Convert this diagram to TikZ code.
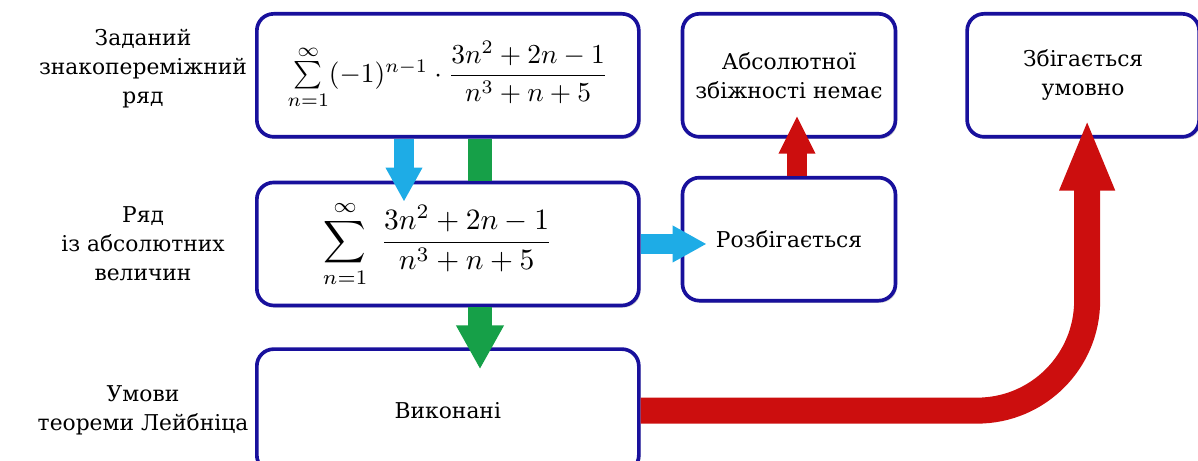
\documentclass[tikz,border=0pt]{standalone}
\usepackage{fontspec}
\setmainfont{DejaVu Serif}
\usetikzlibrary{arrows.meta,positioning,shadows}

\definecolor{frame}{RGB}{24,16,156}
\definecolor{skyarr}{RGB}{30,172,230}
\definecolor{grnarr}{RGB}{22,160,72}
\definecolor{redarr}{RGB}{204,14,14}
\newcommand\boxfont{\fontsize{15.5}{20.5}\selectfont}
\newcommand\bigmath[2]{\scalebox{#1}{\fontsize{10}{12}\selectfont$#2$}}

\begin{document}
\begin{tikzpicture}[
  node distance=1.05cm and 1cm,
  box/.style={draw=frame, line width=2.6pt, rounded corners=12pt, fill=white,
              drop shadow={opacity=0.35, shadow xshift=1.2pt, shadow yshift=-1.5pt},
              align=center, minimum height=3.075cm, font=\boxfont},
  wide/.style={box, minimum width=9.55cm},
  narrow/.style={box, minimum width=5.325cm},
  lab/.style={align=center, font=\boxfont},
  bluearr/.style={draw=skyarr, line width=5mm, -{Triangle[width=8.6mm, length=8.5mm]}},
  grnline/.style={draw=grnarr, line width=6mm},
  grnarr/.style={grnline, -{Triangle[width=11.2mm, length=11mm]}},
  redarr/.style={draw=redarr, line width=5mm, -{Triangle[width=8.5mm, length=9.5mm]}},
  bigred/.style={draw=redarr, line width=6.5mm, rounded corners=2.75cm,
                 -{Triangle[width=12.5mm, length=18mm]}}
]
  \useasboundingbox (0,0) rectangle (29.95,11.525);

  % left column: boxes with the series
  \node[wide, anchor=north west] (given) at (6.375,11.225)
    {\bigmath{1.95}{\sum\limits_{n=1}^{\infty}(-1)^{n-1}\cdot{\displaystyle\frac{3n^2+2n-1}{n^3+n+5}}}};
  \node[wide, below=of given] (absval)
    {\bigmath{2.1}{\displaystyle\sum_{n=1}^{\infty}\;\frac{3n^2+2n-1}{n^3+n+5}}\hspace*{5mm}};
  \node[wide, below=1cm of absval] (leib) {Виконані};

  % results
  \node[narrow, right=of given] (noabs) {Абсолютної\\збіжності немає};
  \node[narrow, right=of absval, yshift=1.2mm] (diverge) {Розбігається};
  \node[box, minimum width=5.8cm, right=1.7cm of noabs] (conv) {Збігається\\умовно};

  % row labels
  \node[lab] (lgiven) at ([xshift=-2.8cm, yshift=1.7mm]given.west) {Заданий\\знакопереміжний\\ряд};
  \node[lab] (labs) at ([xshift=-2.8cm]absval.west) {Ряд\\із абсолютних\\величин};
  \node[lab] (lleib) at ([xshift=-2.8cm]leib.west) {Умови\\теореми Лейбніца};

  % arrows
  \draw[grnline] ([xshift=5.625cm]given.south west) -- ([xshift=5.625cm]absval.north west);
  \draw[grnarr] ([xshift=5.625cm]absval.south west) -- ([xshift=5.625cm, yshift=-5.5mm]leib.north west);
  \draw[bluearr] ([xshift=3.725cm]given.south west) -- ([xshift=3.725cm, yshift=-5.25mm]absval.north west);
  \draw[bluearr] (absval.east) -- ([xshift=6.5mm]diverge.west |- absval.east);
  \draw[redarr] ([xshift=2mm]diverge.north) -- ([xshift=2mm, yshift=5.75mm]noabs.south);
  \draw[bigred] (leib.east) -- ([xshift=1mm]conv.south |- leib.east)
    -- ([xshift=1mm, yshift=5mm]conv.south);
\end{tikzpicture}
\end{document}
